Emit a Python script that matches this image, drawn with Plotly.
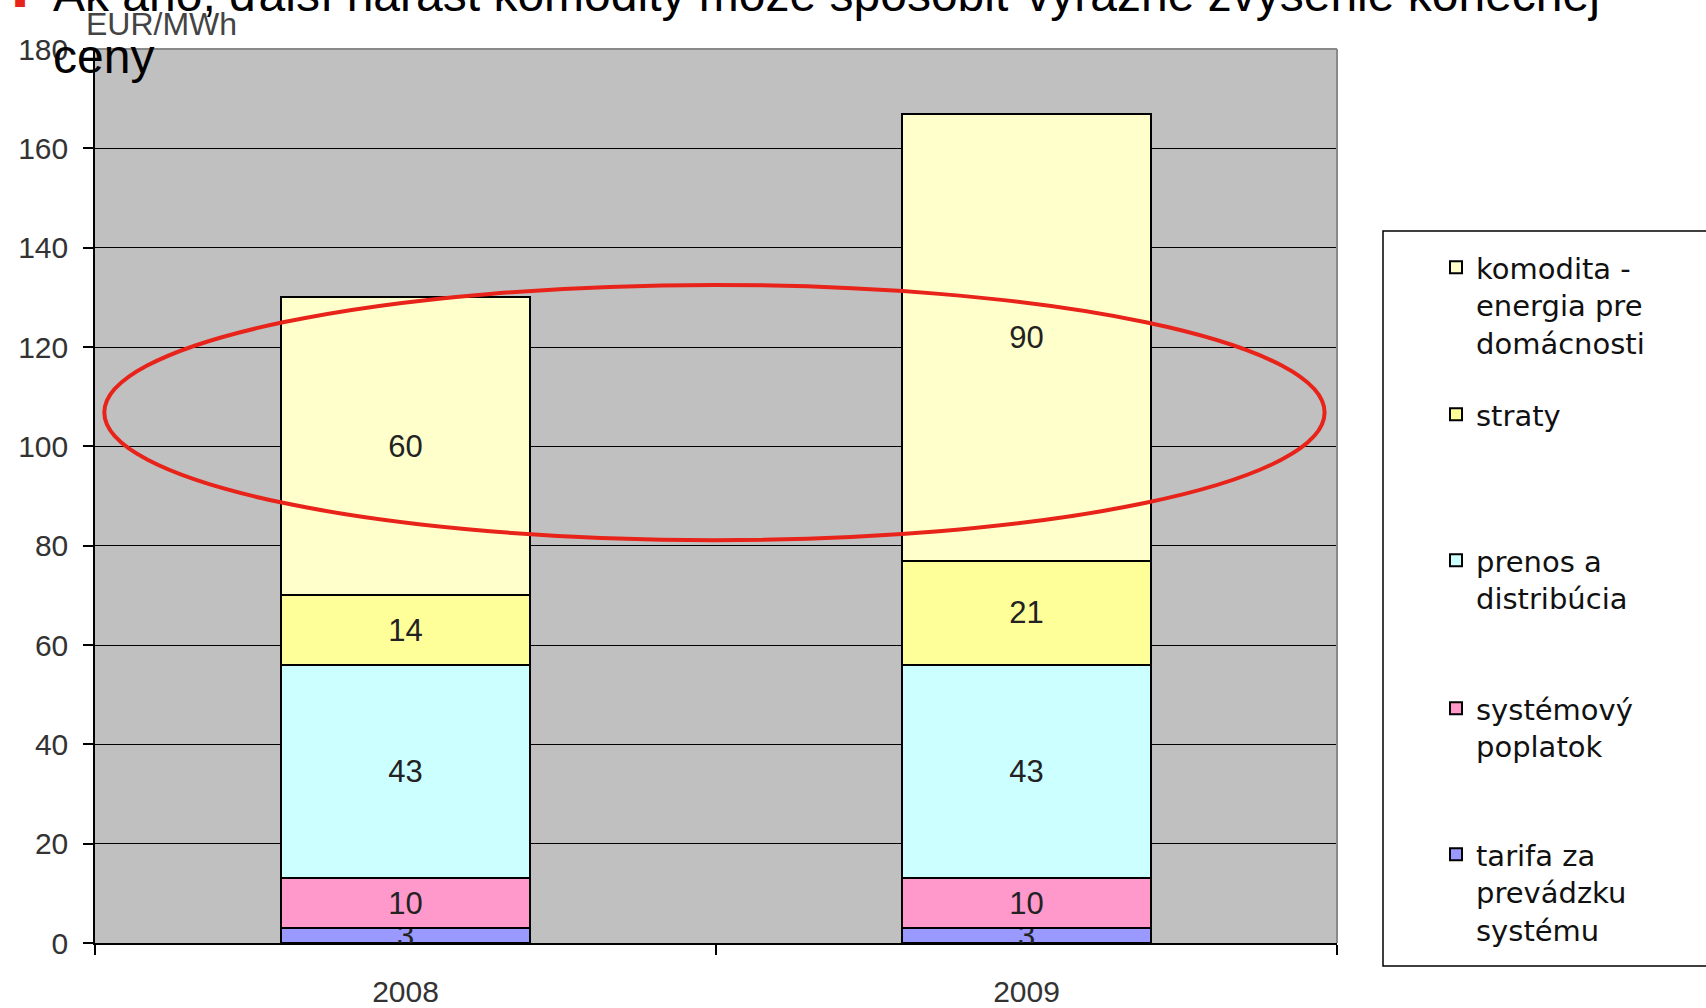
import plotly.graph_objects as go

years = ["2008", "2009"]
tarifa = [3, 3]
systemovy = [10, 10]
prenos = [43, 43]
straty = [14, 21]
komodita = [60, 90]

series_names = [
    "tarifa za<br>prevádzku<br>systému",
    "systémový<br>poplatok",
    "prenos a<br>distribúcia",
    "straty",
    "komodita -<br>energia pre<br>domácnosti",
]
series_values = [tarifa, systemovy, prenos, straty, komodita]
series_colors = ["#9999FF", "#FF99CC", "#CCFFFF", "#FFFF99", "#FFFFCC"]
y_ticks = [0, 20, 40, 60, 80, 100, 120, 140, 160, 180]

W, H = 1706, 1008
ML, MR, MT, MB = 95, 1706 - 1337, 49, 1008 - 943
PW, PH = W - ML - MR, H - MT - MB


def px_x(p):
    return (p - ML) / PW


def px_y(p):
    return (H - MB - p) / PH


# legend first-line pixel rows, bottom series first
legend_rows = [851, 705, 557, 411, 264]

fig = go.Figure()
for i, (name, vals, col) in enumerate(zip(series_names, series_values, series_colors)):
    lg = "legend" if i == 0 else f"legend{i+1}"
    fig.add_trace(go.Bar(
        x=years, y=vals, name=name,
        marker=dict(color=col, line=dict(color="black", width=2)),
        text=[str(v) for v in vals], textposition="inside",
        insidetextanchor="middle", textangle=0, constraintext="none",
        textfont=dict(family="Liberation Sans", size=31, color="#222"),
        legend=lg, hoverinfo="skip",
    ))

legend_common = dict(
    xanchor="left", yanchor="top", bgcolor="rgba(0,0,0,0)", borderwidth=0,
    font=dict(family="DejaVu Sans", size=29, color="#111"), valign="top",
    itemclick=False, itemdoubleclick=False,
)
for i, row in enumerate(legend_rows):
    key = "legend" if i == 0 else f"legend{i+1}"
    fig.update_layout(**{key: dict(legend_common, x=px_x(1436), y=px_y(row - 22))})

fig.update_layout(
    width=W, height=H,
    margin=dict(l=ML, r=MR, t=MT, b=MB, autoexpand=False),
    paper_bgcolor="white", plot_bgcolor="#C0C0C0",
    barmode="stack", bargap=0.6, showlegend=True,
    font=dict(family="Liberation Sans"),
    xaxis=dict(
        type="category", categoryorder="array", categoryarray=years,
        range=[-0.5, 1.5], tickson="boundaries", ticks="outside", ticklen=10,
        tickcolor="black", tickwidth=1.5, showline=True, linecolor="black", linewidth=1.5,
        showgrid=False, tickfont=dict(family="Liberation Sans", size=30, color="#333"),
        ticklabelstandoff=21, automargin=False,
    ),
    yaxis=dict(
        range=[0, 180], tickvals=y_ticks, ticks="outside", ticklen=10,
        tickcolor="black", tickwidth=1.5, showline=True, linecolor="black", linewidth=1.5,
        showgrid=True, gridcolor="black", gridwidth=1.2, zeroline=False,
        tickfont=dict(family="Liberation Sans", size=30, color="#333"),
        ticklabelstandoff=9, automargin=False,
    ),
)

# top and right plot-area border (gray)
fig.add_shape(type="line", xref="paper", yref="paper", x0=0, x1=1, y0=1, y1=1,
              line=dict(color="#8a8a8a", width=2), layer="above")
fig.add_shape(type="line", xref="paper", yref="paper", x0=1, x1=1, y0=0, y1=1,
              line=dict(color="#8a8a8a", width=2), layer="above")

# legend frame
fig.add_shape(type="rect", xref="paper", yref="paper",
              x0=px_x(1383), x1=px_x(1712), y0=px_y(966), y1=px_y(231),
              line=dict(color="black", width=1.5), fillcolor="rgba(0,0,0,0)")

# red ellipse highlight
fig.add_shape(type="circle", xref="x", yref="y",
              x0=-0.485, x1=1.48, y0=81.1, y1=132.5,
              line=dict(color="#E8231A", width=4), layer="above")

# unit label
fig.add_annotation(text="EUR/MWh", xref="paper", yref="paper",
                   x=px_x(84), y=px_y(44), xanchor="left", yanchor="bottom",
                   showarrow=False,
                   font=dict(family="Liberation Sans", size=32, color="#444"))

# slide title (cut off at top)
fig.add_annotation(
    text="Ak áno, ďalší nárast komodity môže spôsobiť výrazné zvýšenie konečnej<br>ceny",
    xref="paper", yref="paper", x=px_x(51), y=px_y(85), xanchor="left", yanchor="bottom",
    align="left", showarrow=False,
    font=dict(family="Liberation Sans", size=48, color="black"))
fig.add_annotation(
    text="■", xref="paper", yref="paper", x=px_x(12), y=px_y(14), xanchor="left",
    yanchor="bottom", showarrow=False,
    font=dict(family="Liberation Sans", size=20, color="#E8231A"))

fig.write_html("out.html", config={"displayModeBar": False},
               post_script="document.body.style.margin='0';")
